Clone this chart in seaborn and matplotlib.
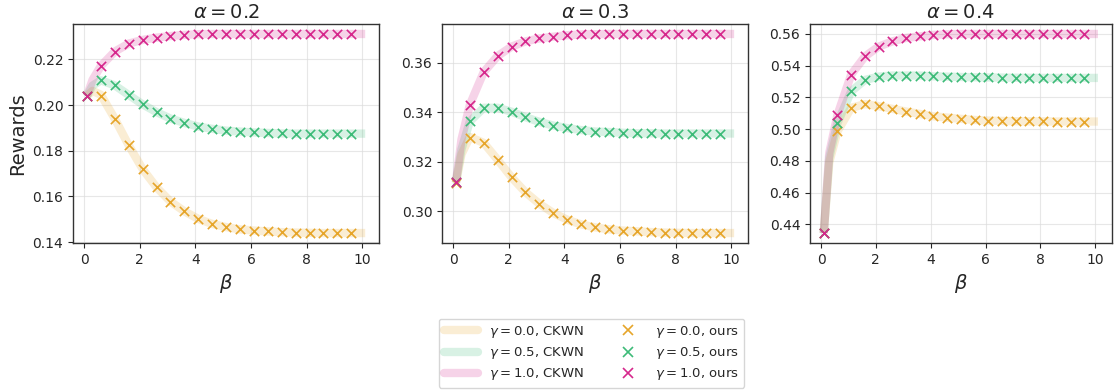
import numpy as np
import pandas as pd
import matplotlib
matplotlib.use("Agg")
import matplotlib.pyplot as plt
import seaborn as sns
from matplotlib.lines import Line2D

# ---------------- data ----------------
alphas = [0.2, 0.3, 0.4]
gammas = [0.0, 0.5, 1.0]
colors = ["#e6a52a", "#3dbb78", "#d6278c"]

beta_ours = [0.1, 0.6, 1.1, 1.6, 2.1, 2.6, 3.1, 3.6, 4.1, 4.6,
             5.1, 5.6, 6.1, 6.6, 7.1, 7.6, 8.1, 8.6, 9.1, 9.6]
beta_ckwn = [0.1, 0.3, 0.6, 1.1, 1.6, 2.1, 2.6, 3.1, 3.6, 4.1, 4.6,
             5.1, 5.6, 6.1, 6.6, 7.1, 7.6, 8.1, 8.6, 9.1, 9.6, 10.1]

# alpha = 0.2
ours_a02_g00 = [0.2040, 0.2040, 0.1940, 0.1824, 0.1720, 0.1640, 0.1578, 0.1535, 0.1502, 0.1480,
                0.1466, 0.1456, 0.1451, 0.1447, 0.1444, 0.1442, 0.1441, 0.1440, 0.1440, 0.1440]
ours_a02_g05 = [0.2040, 0.2108, 0.2086, 0.2044, 0.2003, 0.1969, 0.1941, 0.1922, 0.1906, 0.1896,
                0.1888, 0.1884, 0.1880, 0.1878, 0.1876, 0.1875, 0.1875, 0.1875, 0.1875, 0.1875]
ours_a02_g10 = [0.2040, 0.2171, 0.2234, 0.2269, 0.2285, 0.2295, 0.2302, 0.2307, 0.2310, 0.2311,
                0.2311, 0.2311, 0.2311, 0.2311, 0.2311, 0.2311, 0.2311, 0.2311, 0.2311, 0.2311]
ckwn_a02_g00 = [0.2040, 0.2062, 0.2045, 0.1940, 0.1824, 0.1720, 0.1640, 0.1578, 0.1535, 0.1502, 0.1480,
                0.1466, 0.1456, 0.1451, 0.1447, 0.1444, 0.1442, 0.1441, 0.1440, 0.1440, 0.1440, 0.1440]
ckwn_a02_g05 = [0.2040, 0.2085, 0.2108, 0.2086, 0.2044, 0.2003, 0.1969, 0.1941, 0.1922, 0.1906, 0.1896,
                0.1888, 0.1884, 0.1880, 0.1878, 0.1876, 0.1875, 0.1875, 0.1875, 0.1875, 0.1875, 0.1875]
ckwn_a02_g10 = [0.2040, 0.2110, 0.2171, 0.2234, 0.2269, 0.2285, 0.2295, 0.2302, 0.2307, 0.2310, 0.2311,
                0.2311, 0.2311, 0.2311, 0.2311, 0.2311, 0.2311, 0.2311, 0.2311, 0.2311, 0.2311, 0.2311]

# alpha = 0.3
ours_a03_g00 = [0.3114, 0.3297, 0.3276, 0.3208, 0.3137, 0.3077, 0.3030, 0.2993, 0.2966, 0.2947,
                0.2935, 0.2927, 0.2922, 0.2919, 0.2916, 0.2914, 0.2913, 0.2912, 0.2912, 0.2912]
ours_a03_g05 = [0.3117, 0.3363, 0.3418, 0.3418, 0.3402, 0.3380, 0.3361, 0.3346, 0.3336, 0.3328,
                0.3322, 0.3320, 0.3317, 0.3315, 0.3315, 0.3314, 0.3314, 0.3314, 0.3314, 0.3314]
ours_a03_g10 = [0.3117, 0.3430, 0.3562, 0.3627, 0.3665, 0.3686, 0.3698, 0.3705, 0.3711, 0.3714,
                0.3715, 0.3716, 0.3716, 0.3716, 0.3716, 0.3716, 0.3716, 0.3716, 0.3716, 0.3716]
ckwn_a03_g00 = [0.3114, 0.3230, 0.3300, 0.3276, 0.3208, 0.3137, 0.3077, 0.3030, 0.2993, 0.2966, 0.2947,
                0.2935, 0.2927, 0.2922, 0.2919, 0.2916, 0.2914, 0.2913, 0.2912, 0.2912, 0.2912, 0.2912]
ckwn_a03_g05 = [0.3117, 0.3250, 0.3363, 0.3418, 0.3418, 0.3402, 0.3380, 0.3361, 0.3346, 0.3336, 0.3328,
                0.3322, 0.3320, 0.3317, 0.3315, 0.3315, 0.3314, 0.3314, 0.3314, 0.3314, 0.3314, 0.3314]
ckwn_a03_g10 = [0.3117, 0.3290, 0.3430, 0.3562, 0.3627, 0.3665, 0.3686, 0.3698, 0.3705, 0.3711, 0.3714,
                0.3715, 0.3716, 0.3716, 0.3716, 0.3716, 0.3716, 0.3716, 0.3716, 0.3716, 0.3716, 0.3716]

# alpha = 0.4
ours_a04_g00 = [0.4345, 0.4986, 0.5134, 0.5158, 0.5145, 0.5128, 0.5111, 0.5096, 0.5081, 0.5073,
                0.5065, 0.5058, 0.5054, 0.5052, 0.5050, 0.5049, 0.5049, 0.5048, 0.5048, 0.5048]
ours_a04_g05 = [0.4345, 0.5039, 0.5238, 0.5310, 0.5331, 0.5338, 0.5338, 0.5338, 0.5333, 0.5331,
                0.5329, 0.5327, 0.5326, 0.5325, 0.5324, 0.5324, 0.5323, 0.5323, 0.5323, 0.5323]
ours_a04_g10 = [0.4345, 0.5090, 0.5344, 0.5458, 0.5520, 0.5553, 0.5575, 0.5585, 0.5594, 0.5598,
                0.5600, 0.5600, 0.5600, 0.5600, 0.5600, 0.5600, 0.5600, 0.5600, 0.5600, 0.5600]
ckwn_a04_g00 = [0.4345, 0.4790, 0.4986, 0.5134, 0.5158, 0.5145, 0.5128, 0.5111, 0.5096, 0.5081, 0.5073,
                0.5065, 0.5058, 0.5054, 0.5052, 0.5050, 0.5049, 0.5049, 0.5048, 0.5048, 0.5048, 0.5048]
ckwn_a04_g05 = [0.4345, 0.4820, 0.5039, 0.5238, 0.5310, 0.5331, 0.5338, 0.5338, 0.5338, 0.5333, 0.5331,
                0.5329, 0.5327, 0.5326, 0.5325, 0.5324, 0.5324, 0.5323, 0.5323, 0.5323, 0.5323, 0.5323]
ckwn_a04_g10 = [0.4345, 0.4850, 0.5090, 0.5344, 0.5458, 0.5520, 0.5553, 0.5575, 0.5585, 0.5594, 0.5598,
                0.5600, 0.5600, 0.5600, 0.5600, 0.5600, 0.5600, 0.5600, 0.5600, 0.5600, 0.5600, 0.5600]

ours = {
    0.2: [ours_a02_g00, ours_a02_g05, ours_a02_g10],
    0.3: [ours_a03_g00, ours_a03_g05, ours_a03_g10],
    0.4: [ours_a04_g00, ours_a04_g05, ours_a04_g10],
}
ckwn = {
    0.2: [ckwn_a02_g00, ckwn_a02_g05, ckwn_a02_g10],
    0.3: [ckwn_a03_g00, ckwn_a03_g05, ckwn_a03_g10],
    0.4: [ckwn_a04_g00, ckwn_a04_g05, ckwn_a04_g10],
}

# ---------------- plot ----------------
sns.set_style("ticks")
plt.rcParams["font.family"] = ["DejaVu Sans"]

fig = plt.figure(figsize=(11.17, 3.91), dpi=100)
bottom, height = 0.3785, 0.5601
axes_rects = [
    [0.0654, bottom, 0.2740, height],
    [0.3957, bottom, 0.2740, height],
    [0.7252, bottom, 0.2700, height],
]

line_alpha = 0.2
lw = 6

for i, a in enumerate(alphas):
    ax = fig.add_axes(axes_rects[i])
    for j, g in enumerate(gammas):
        df_l = pd.DataFrame({"beta": beta_ckwn, "r": ckwn[a][j]})
        sns.lineplot(data=df_l, x="beta", y="r", ax=ax, color=colors[j],
                     alpha=line_alpha, linewidth=lw, solid_capstyle="butt")
    for j, g in enumerate(gammas):
        df_m = pd.DataFrame({"beta": beta_ours, "r": ours[a][j]})
        sns.scatterplot(data=df_m, x="beta", y="r", ax=ax, color=colors[j],
                        marker="x", s=45, linewidth=1.2, zorder=3)
    ax.set_title(r"$\alpha = %.1f$" % a, fontsize=14, pad=4)
    ax.set_xlabel(r"$\beta$", fontsize=14)
    ax.set_ylabel("Rewards" if i == 0 else "", fontsize=14)
    ax.set_xticks([0, 2, 4, 6, 8, 10])
    ax.tick_params(labelsize=10)
    ax.grid(True, color="#dddddd", linewidth=0.8, alpha=0.7)
    ax.set_axisbelow(True)
    for sp in ax.spines.values():
        sp.set_color("#333333")
        sp.set_linewidth(1.0)
    if ax.get_legend() is not None:
        ax.get_legend().remove()

handles = []
labels = []
for j, g in enumerate(gammas):
    handles.append(Line2D([], [], color=colors[j], alpha=line_alpha, linewidth=lw))
    labels.append(r"$\gamma = %.1f$, CKWN" % g)
for j, g in enumerate(gammas):
    handles.append(Line2D([], [], color=colors[j], marker="x", linestyle="",
                          markersize=7, markeredgewidth=1.2))
    labels.append(r"$\gamma = %.1f$, ours" % g)

fig.legend(handles, labels, loc="lower center", bbox_to_anchor=(0.5296, 0.0),
           ncol=2, fontsize=9.5, frameon=True, columnspacing=2.0,
           handlelength=2.6, labelspacing=0.4, borderaxespad=0.25)

fig.savefig("out.png", dpi=100)
